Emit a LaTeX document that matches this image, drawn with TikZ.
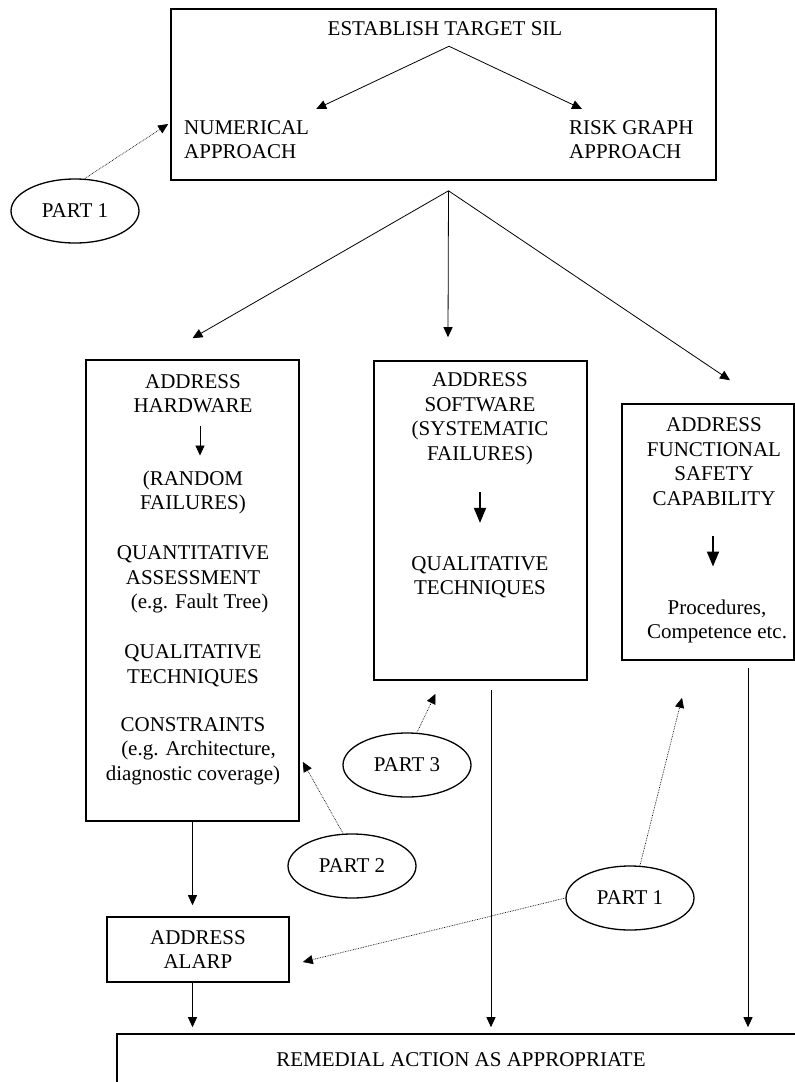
\documentclass[tikz,border=0pt]{standalone}
\usepackage{fontspec}
\setmainfont{Liberation Serif}
\usetikzlibrary{shapes.geometric,arrows.meta}

\begin{document}
\begin{tikzpicture}[x=1pt, y=-1pt, font=\fontsize{21}{24.5}\selectfont,
    >={Triangle[length=10pt,width=9pt]},
    box/.style={draw, line width=1.6pt, inner sep=0pt},
    txt/.style={align=center, inner sep=0pt},
    part/.style={draw, ellipse, line width=1.3pt, minimum width=128pt, minimum height=64pt, inner sep=0pt},
    link/.style={->, line width=0.8pt},
    hint/.style={->, densely dotted, line width=0.7pt},
    heavy/.style={-{Triangle[length=15pt,width=12pt]}, line width=1.8pt}]
    \useasboundingbox (0,0) rectangle (795,1082);
    \clip (0,0) rectangle (795,1082);

    % target SIL
    \node[box, minimum width=545pt, minimum height=171pt] (sil) at (443.5,94.5) {};
    \node[txt] (est) at (445,29) {ESTABLISH TARGET SIL};
    \node[txt, align=left, anchor=west] (num) at (184,139.5) {NUMERICAL\\APPROACH};
    \node[txt, align=left, anchor=west] (risk) at (569,139.5) {RISK GRAPH\\APPROACH};
    \draw[link] ([xshift=4pt,yshift=-10pt]est.south) -- ([xshift=7pt,yshift=11pt]num.north east);
    \draw[link] ([xshift=4pt,yshift=-10pt]est.south) -- ([xshift=13pt,yshift=11pt]risk.north west);

    % hardware
    \node[box, minimum width=213pt, minimum height=461pt] (hw) at (192.5,590.5) {};
    \node[txt] (hwa) at (193,393.5) {ADDRESS\\HARDWARE};
    \node[txt] (hwb) at (193,492.5) {(RANDOM\\FAILURES)};
    \node[txt] (hwc) at (193,579.5) {QUANTITATIVE\\ASSESSMENT\\\hspace*{13pt}(e.g. Fault Tree)};
    \node[txt] (hwd) at (193,665.5) {QUALITATIVE\\TECHNIQUES};
    \node[txt] (hwe) at (193,751) {CONSTRAINTS\\\hspace*{11pt}(e.g. Architecture,\\diagnostic coverage)};
    \draw[link, shorten <=13pt, shorten >=15pt] ([xshift=7pt]hwa.south) -- ([xshift=7pt]hwb.north);

    % software
    \node[box, minimum width=213pt, minimum height=319pt] (sw) at (480.5,520.5) {};
    \node[txt] (swa) at (480,419) {ADDRESS\\SOFTWARE\\(SYSTEMATIC\\FAILURES)};
    \node[txt] (swb) at (480,577) {QUALITATIVE\\TECHNIQUES};
    \draw[heavy, shorten <=27pt, shorten >=33pt] (swa.south) -- (swb.north);

    % functional safety
    \node[box, minimum width=172pt, minimum height=256pt] (fs) at (708,532) {};
    \node[txt] (fsa) at (714,461.5) {ADDRESS\\FUNCTIONAL\\SAFETY\\CAPABILITY};
    \node[txt] (fsb) at (717,621.5) {Procedures,\\Competence etc.};
    \draw[heavy, shorten <=30pt, shorten >=33pt] ([xshift=-1pt]fsa.south) -- ([xshift=-4pt]fsb.north);

    % fan out from the top box
    \draw[link] ([xshift=5pt,yshift=-10pt]sil.south) -- ([yshift=21pt]hw.north);
    \draw[link] ([xshift=5pt,yshift=-10pt]sil.south) -- ([xshift=-32.5pt,yshift=23pt]sw.north);
    \draw[link] ([xshift=5pt,yshift=-10pt]sil.south) -- ([xshift=22pt,yshift=23pt]fs.north);

    \node[box, txt, minimum width=182pt, minimum height=65pt] (alarp) at (198,949.5) {ADDRESS\\ALARP};
    \node[box, minimum width=688pt, minimum height=52pt] (rem) at (461,1060) {REMEDIAL ACTION AS APPROPRIATE};

    % down to remedial action
    \coordinate (swout) at ([xshift=10.5pt]sw.south);
    \coordinate (fsout) at ([xshift=40pt]fs.south);
    \draw[link, shorten >=11pt] (hw.south) -- (hw.south |- alarp.north);
    \draw[link, shorten >=6pt] (hw.south |- alarp.south) -- (hw.south |- rem.north);
    \draw[link, shorten <=9pt, shorten >=6pt] (swout) -- (swout |- rem.north);
    \draw[link, shorten <=7pt, shorten >=6pt] (fsout) -- (fsout |- rem.north);

    % standard parts
    \node[part] (p1a) at (75,211) {PART 1};
    \node[part] (p3) at (407,765) {PART 3};
    \node[part] (p2) at (352,866) {PART 2};
    \node[part] (p1b) at (630,898) {PART 1};
    \draw[hint] ([xshift=10pt]p1a.north) -- ([xshift=-2pt,yshift=-29.5pt]sil.west);
    \draw[hint] ([xshift=10pt]p3.north) -- ([xshift=-45pt,yshift=-13pt]sw.south);
    \draw[hint] ([xshift=-9pt]p2.north) -- ([xshift=3pt,yshift=60pt]hw.south east);
    \draw[hint] (p1b.west) -- ([xshift=13pt,yshift=-12.5pt]alarp.east);
    \draw[hint] ([xshift=10pt]p1b.north) -- ([xshift=-26pt,yshift=-37pt]fs.south);
\end{tikzpicture}
\end{document}
